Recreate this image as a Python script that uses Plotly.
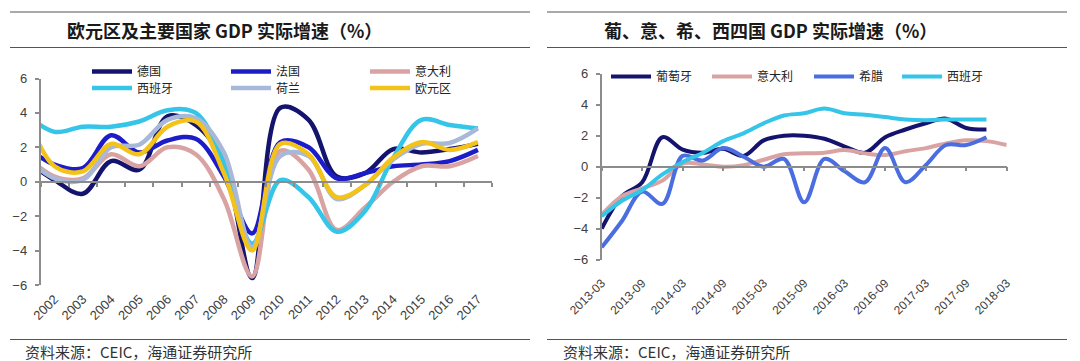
import plotly.graph_objects as go

W, H = 1080, 361

# ---------------- Left chart data (annual, %) ----------------
years = ["2001", "2002", "2003", "2004", "2005", "2006", "2007", "2008", "2009",
         "2010", "2011", "2012", "2013", "2014", "2015", "2016", "2017"]
germany = [1.2, 0.1, -0.7, 1.2, 0.7, 3.8, 3.3, 1.1, -5.6, 4.3, 3.6, 0.3, 0.5, 1.9, 1.7, 1.9, 2.2]
france = [2.0, 1.0, 0.8, 2.7, 1.7, 2.4, 2.5, 0.3, -3.0, 2.3, 2.0, 0.2, 0.5, 0.9, 1.0, 1.2, 1.85]
italy_a = [1.5, 0.3, 0.2, 1.6, 0.9, 2.0, 1.6, -1.0, -5.5, 1.8, 0.7, -2.8, -1.5, 0.0, 0.9, 0.9, 1.5]
spain_a = [3.9, 2.9, 3.2, 3.2, 3.5, 4.15, 4.0, 1.1, -3.6, 0.1, -0.9, -2.9, -1.7, 1.4, 3.6, 3.3, 3.1]
netherlands = [1.4, 0.2, 0.1, 2.0, 2.15, 3.6, 3.7, 1.7, -3.8, 1.5, 1.5, -1.0, -0.2, 1.3, 2.2, 2.25, 3.1]
eurozone = [3.9, 0.9, 0.6, 2.2, 1.6, 3.2, 3.5, 0.5, -4.0, 2.2, 1.6, -0.9, -0.2, 1.4, 2.3, 1.85, 2.3]

# ---------------- Right chart data (quarterly, %) ----------------
quarters = ["2013-03", "2013-06", "2013-09", "2013-12", "2014-03", "2014-06", "2014-09",
            "2014-12", "2015-03", "2015-06", "2015-09", "2015-12", "2016-03", "2016-06",
            "2016-09", "2016-12", "2017-03", "2017-06", "2017-09", "2017-12", "2018-03"]
quarter_ticks = ["2013-03", "2013-09", "2014-03", "2014-09", "2015-03", "2015-09",
                 "2016-03", "2016-09", "2017-03", "2017-09", "2018-03"]
portugal = [-4.0, -1.9, -1.0, 1.9, 1.1, 0.9, 1.15, 0.7, 1.7, 2.0, 2.0, 1.8, 1.3, 0.9,
            1.9, 2.4, 2.8, 3.1, 2.5, 2.4, None]
italy_q = [-3.1, -1.9, -1.4, -0.9, 0.2, 0.15, 0.0, 0.1, 0.45, 0.8, 0.86, 0.9, 1.07, 0.86,
           0.75, 1.0, 1.2, 1.5, 1.7, 1.65, 1.4]
greece = [-5.2, -3.5, -1.6, -2.4, 0.7, 0.4, 1.2, 0.65, 0.0, 0.5, -2.3, 0.5, -0.3, -1.0,
          1.2, -1.0, 0.1, 1.4, 1.4, 1.9, None]
spain_q = [-3.2, -2.2, -1.5, -0.5, 0.3, 0.9, 1.65, 2.15, 2.8, 3.3, 3.45, 3.75, 3.45, 3.35,
           3.2, 3.05, 3.0, 3.05, 3.05, 3.05, None]

NAVY = "#14146e"
BLUE = "#1c1cc8"
PINK = "#d9a3a3"
CYAN = "#35c5e8"
GREYBLUE = "#a7b8d8"
YELLOW = "#f3c31a"
ROYAL = "#4a6ee0"

CJK = "Noto Sans CJK SC"
LAT = "Liberation Sans, Arial"
AXC = "#8c8c8c"
TXT = "#404040"
ITEMW = 40

fig = go.Figure()

left_series = [("德国", germany, NAVY), ("法国", france, BLUE), ("意大利", italy_a, PINK),
               ("西班牙", spain_a, CYAN), ("荷兰", netherlands, GREYBLUE), ("欧元区", eurozone, YELLOW)]
right_series = [("葡萄牙", portugal, NAVY), ("意大利", italy_q, PINK),
                ("希腊", greece, ROYAL), ("西班牙", spain_q, CYAN)]

# legend item text start positions (px)
left_leg_pos = [(137, 71.5), (276, 71.5), (415, 71.5), (137, 88), (276, 88), (415, 88)]
right_leg_pos = [(656, 76.5), (757, 76.5), (859, 76.5), (947, 76.5)]


def leg(tx, ty):
    return dict(x=(tx - ITEMW - 10) / W, y=1 - ty / H, xanchor="left", yanchor="middle",
                itemwidth=ITEMW, bgcolor="rgba(0,0,0,0)",
                font=dict(family=CJK, size=12, color="#222"))


legends = {}
k = 1
for (name, vals, col), (tx, ty) in zip(left_series, left_leg_pos):
    lname = "legend" if k == 1 else f"legend{k}"
    fig.add_trace(go.Scatter(x=years, y=vals, name=name, mode="lines",
                             line=dict(color=col, width=4.5, shape="spline", smoothing=1.0),
                             xaxis="x", yaxis="y", legend=lname, hoverinfo="skip"))
    legends[lname] = leg(tx, ty)
    k += 1
for (name, vals, col), (tx, ty) in zip(right_series, right_leg_pos):
    lname = f"legend{k}"
    fig.add_trace(go.Scatter(x=quarters, y=vals, name=name, mode="lines",
                             line=dict(color=col, width=4, shape="spline", smoothing=1.0),
                             xaxis="x2", yaxis="y2", legend=lname, hoverinfo="skip",
                             connectgaps=False))
    legends[lname] = leg(tx, ty)
    k += 1

ly = [1 - 285 / H, 1 - 78.5 / H]
ry = [1 - 259.7 / H, 1 - 73.7 / H]

fig.update_layout(
    template="none",
    width=W, height=H, margin=dict(l=0, r=0, t=0, b=0, autoexpand=False),
    paper_bgcolor="white", plot_bgcolor="white", showlegend=True,
    xaxis=dict(domain=[40.5 / W, 492 / W], type="category", range=[0.5, 16.5],
               anchor="free", position=(ly[0] + ly[1]) / 2, automargin=False,
               showline=True, linecolor=AXC, linewidth=1.5, showgrid=False, zeroline=False,
               tickson="boundaries", ticks="outside", ticklen=4, tickcolor=AXC, tickwidth=1.5,
               tickangle=-45, ticklabelstandoff=104,
               tickfont=dict(family=LAT, size=13, color=TXT)),
    yaxis=dict(domain=ly, range=[-6, 6], dtick=2, anchor="x", showline=True, linecolor=AXC,
               linewidth=1.5, ticks="outside", ticklen=4, tickcolor=AXC, tickwidth=1.5,
               showgrid=False, zeroline=False, automargin=False, ticklabelstandoff=5,
               tickfont=dict(family=LAT, size=13, color=TXT)),
    xaxis2=dict(domain=[601.7 / W, 1006.7 / W], type="category", range=[0, 20],
                anchor="free", position=(ry[0] + ry[1]) / 2, automargin=False,
                tickmode="array", tickvals=quarter_ticks,
                showline=True, linecolor=AXC, linewidth=1.5, showgrid=False, zeroline=False,
                ticks="outside", ticklen=4, tickcolor=AXC, tickwidth=1.5,
                tickangle=-45, ticklabelstandoff=100,
                tickfont=dict(family=LAT, size=12, color=TXT)),
    yaxis2=dict(domain=ry, range=[-6, 6], dtick=2, anchor="x2", showline=True, linecolor=AXC,
                linewidth=1.5, ticks="outside", ticklen=4, tickcolor=AXC, tickwidth=1.5,
                showgrid=False, zeroline=False, automargin=False, ticklabelstandoff=5,
                tickfont=dict(family=LAT, size=13, color=TXT)),
    **legends,
)

# header / footer rules
for x0, x1 in [(10, 530), (547, 1067)]:
    for yy in (12, 47.5, 339.5):
        fig.add_shape(type="line", xref="paper", yref="paper", x0=x0 / W, x1=x1 / W,
                      y0=1 - yy / H, y1=1 - yy / H, line=dict(color="#555555", width=1))

fig.add_annotation(text="<b>欧元区及主要国家 GDP 实际增速（%）</b>", x=65 / W, y=1 - 29.5 / H,
                   xref="paper", yref="paper", xanchor="left", yanchor="middle", showarrow=False,
                   font=dict(family=CJK, size=18, color="#1a1a1a"))
fig.add_annotation(text="<b>葡、意、希、西四国 GDP 实际增速（%）</b>", x=602 / W, y=1 - 29.5 / H,
                   xref="paper", yref="paper", xanchor="left", yanchor="middle", showarrow=False,
                   font=dict(family=CJK, size=18, color="#1a1a1a"))
for fx in (23, 561):
    fig.add_annotation(text="资料来源：CEIC，海通证券研究所", x=fx / W, y=1 - 351 / H,
                       xref="paper", yref="paper", xanchor="left", yanchor="middle",
                       showarrow=False, font=dict(family=CJK, size=15, color="#333333"))

fig.write_html("out.html", post_script="document.body.style.margin='0px';",
               config={"displayModeBar": False})
